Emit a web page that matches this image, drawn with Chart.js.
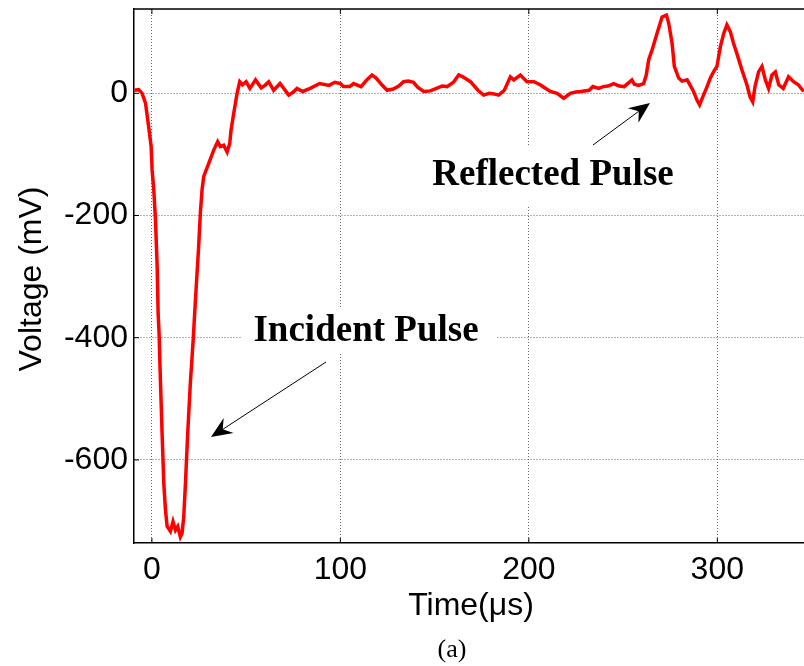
<!DOCTYPE html>
<html>
<head>
<meta charset="utf-8">
<script src="https://cdn.jsdelivr.net/npm/chart.js@4.4.1/dist/chart.umd.min.js"></script>
<style>
    html, body { margin: 0; padding: 0; background: #fff; }
    #wrap { width: 804px; height: 666px; position: relative; }
</style>
</head>
<body>
<div id="wrap"><canvas id="pulseChart" width="804" height="666"></canvas></div>
<script>
// values
const timeUs = [-9.3, -7, -5.2, -3.4, -1.7, -0.4, 0.1, 1, 1.9, 2.8, 3.3, 3.8, 4.3, 5.4, 6.3, 7.2, 8.1, 9.8, 11.2, 12.5,
    13.7, 15.1, 16, 16.9, 17.8, 19, 20.4, 21.9, 23.1, 24.8, 25.7, 26.6, 27.5, 30.1, 32.8, 34.9, 36.3, 38.1, 39.9, 41.3,
    42, 43.4, 45.2, 46.6, 48, 50, 52, 55, 58, 60, 62, 64.6, 68, 70, 72.6, 75, 77, 80, 84, 89, 94, 97, 100, 101.6,
    105, 107, 111, 114, 116.8, 119, 122, 124.8, 128, 131, 133.5, 136, 138.8, 141, 144.2, 147.7, 151, 154, 156.6, 160,
    162.8, 165, 169, 173, 176, 179, 181.6, 184, 187, 190.2, 192, 195.5, 199, 202.7, 206, 209, 211.4, 215, 218.5, 222,
    225, 227.6, 232, 234, 237, 239.5, 242, 245, 248, 250.6, 254.7, 256, 258.2, 260.9, 262.3, 263.6, 265.4, 268, 270.7,
    273, 274.2, 276, 277.2, 279.5, 281.3, 284, 286, 287.4, 289.2, 290.6, 292.4, 294.2, 296.3, 298, 299.8, 301.6, 303.4,
    305.1, 306.9, 308.6, 310.4, 313.1, 315.7, 317.4, 318.8, 320, 321.9, 323.7, 325.5, 327.2, 329, 330.8, 332.6, 335,
    337.8, 340.5, 343, 345.8];
const voltageMv = [5, 6, 0, -16, -55, -87, -125, -158, -207, -284, -360, -392, -447, -556, -638, -682, -709, -717, -701, -715,
    -709, -726, -720, -693, -638, -556, -474, -404, -338, -251, -196, -158, -136, -115, -93, -79, -87, -85, -96, -82,
    -60, -33, 0, 19, 14, 19, 8, 22, 9, 13, 19, 5, 16, 8, -3, 2, 8, 3, 8, 16, 13, 18, 16, 11,
    11, 16, 11, 22, 30, 25, 14, 5, 7, 12, 19, 20, 18, 10, 3, 4, 8, 12, 11, 18,
    30, 27, 19, 5, -3, 0, -1, -3, 5, 27, 22, 30, 19, 19, 14, 8, 3, 0, -8, 0,
    2, 3, 5, 11, 8, 11, 12, 16, 12, 11, 22, 15, 13, 16, 30, 55, 71, 98, 125,
    128, 115, 82, 44, 25, 20, 22, 11, 3, -11, -19, -5, 8, 25, 35, 44, 76, 98,
    112, 101, 82, 65, 38, 14, -6, -14, 11, 35, 44, 22, 8, 30, 35, 14, 8,
    27, 19, 14, 3];
const xTicks = [0, 100, 200, 300];
const yTicks = [-600, -400, -200, 0];
const xRange = [-9.5, 346];
const yRange = [-736, 138];

const sansFont = "'Liberation Sans', Arial, sans-serif";
const serifFont = "'Liberation Serif', 'Times New Roman', serif";

function drawArrow(ctx, x0, y0, x1, y1) {
    const ang = Math.atan2(y1 - y0, x1 - x0);
    const len = 21, half = 9, notch = 14;
    ctx.save();
    ctx.strokeStyle = "#000";
    ctx.fillStyle = "#000";
    ctx.lineWidth = 1;
    ctx.beginPath();
    ctx.moveTo(x0, y0);
    ctx.lineTo(x1 - Math.cos(ang) * notch, y1 - Math.sin(ang) * notch);
    ctx.stroke();
    ctx.translate(x1, y1);
    ctx.rotate(ang);
    ctx.beginPath();
    ctx.moveTo(0, 0);
    ctx.lineTo(-len, -half);
    ctx.lineTo(-notch, 0);
    ctx.lineTo(-len, half);
    ctx.closePath();
    ctx.fill();
    ctx.restore();
}

const decorPlugin = {
    id: "decor",
    afterDatasetsDraw(chart) {
        const ctx = chart.ctx;
        const area = chart.chartArea;
        const xs = chart.scales.x, ys = chart.scales.y;

        ctx.save();
        // top border
        ctx.strokeStyle = "#000";
        ctx.lineWidth = 1.5;
        ctx.beginPath();
        ctx.moveTo(area.left, area.top);
        ctx.lineTo(area.right, area.top);
        ctx.stroke();

        // inward tick marks
        ctx.lineWidth = 1;
        xTicks.forEach(v => {
            const px = xs.getPixelForValue(v);
            ctx.beginPath();
            ctx.moveTo(px, area.bottom); ctx.lineTo(px, area.bottom - 5);
            ctx.moveTo(px, area.top); ctx.lineTo(px, area.top + 5);
            ctx.stroke();
        });
        yTicks.forEach(v => {
            const py = ys.getPixelForValue(v);
            ctx.beginPath();
            ctx.moveTo(area.left, py); ctx.lineTo(area.left + 5, py);
            ctx.stroke();
        });

        // annotation labels on white boxes
        ctx.fillStyle = "#fff";
        ctx.fillRect(242, 308, 254, 46);
        ctx.fillRect(418, 146, 270, 60);
        ctx.fillStyle = "#000";
        ctx.font = "bold 37px " + serifFont;
        ctx.textAlign = "center";
        ctx.textBaseline = "middle";
        ctx.fillText("Incident Pulse", 366, 331);
        ctx.fillText("Reflected Pulse", 553, 175);

        drawArrow(ctx, 326, 362, 211, 437);
        drawArrow(ctx, 593, 145, 650, 103);

        // axis titles and caption
        ctx.font = "32px " + sansFont;
        ctx.fillText("Time(\u03bcs)", 471, 606);
        ctx.save();
        ctx.translate(32, 279);
        ctx.rotate(-Math.PI / 2);
        ctx.fillText("Voltage (mV)", 0, 0);
        ctx.restore();
        ctx.font = "26px " + serifFont;
        ctx.fillText("(a)", 452, 650);
        ctx.restore();
    }
};

const points = timeUs.map((t, i) => ({ x: t, y: voltageMv[i] }));

new Chart(document.getElementById("pulseChart"), {
    type: "line",
    data: {
        datasets: [{
            data: points,
            borderColor: "#ff0000",
            borderWidth: 3.5,
            pointRadius: 0,
            tension: 0,
            fill: false
        }]
    },
    options: {
        responsive: false,
        animation: false,
        events: [],
        layout: { padding: { top: 9, right: 0, left: 0, bottom: 0 } },
        plugins: { legend: { display: false }, tooltip: { enabled: false } },
        scales: {
            x: {
                type: "linear",
                min: xRange[0],
                max: xRange[1],
                afterBuildTicks: scale => { scale.ticks = xTicks.map(v => ({ value: v })); },
                afterFit: scale => {
                    scale.height = 123;
                    scale.paddingLeft = 0; scale.paddingRight = 0;
                },
                grid: { color: "#666", drawTicks: false, lineWidth: 1 },
                border: { display: true, color: "#000", width: 1.5, dash: [1, 2] },
                ticks: { color: "#000", padding: 8, maxRotation: 0, font: { family: sansFont, size: 32 } }
            },
            y: {
                type: "linear",
                min: yRange[0],
                max: yRange[1],
                afterBuildTicks: scale => { scale.ticks = yTicks.map(v => ({ value: v })); },
                afterFit: scale => {
                    scale.width = 134;
                    scale.paddingTop = 0; scale.paddingBottom = 0;
                },
                grid: { color: "#666", drawTicks: false, lineWidth: 1 },
                border: { display: true, color: "#000", width: 1.5, dash: [1, 2] },
                ticks: { color: "#000", padding: 6, font: { family: sansFont, size: 32 } }
            }
        }
    },
    plugins: [decorPlugin]
});
</script>
</body>
</html>
